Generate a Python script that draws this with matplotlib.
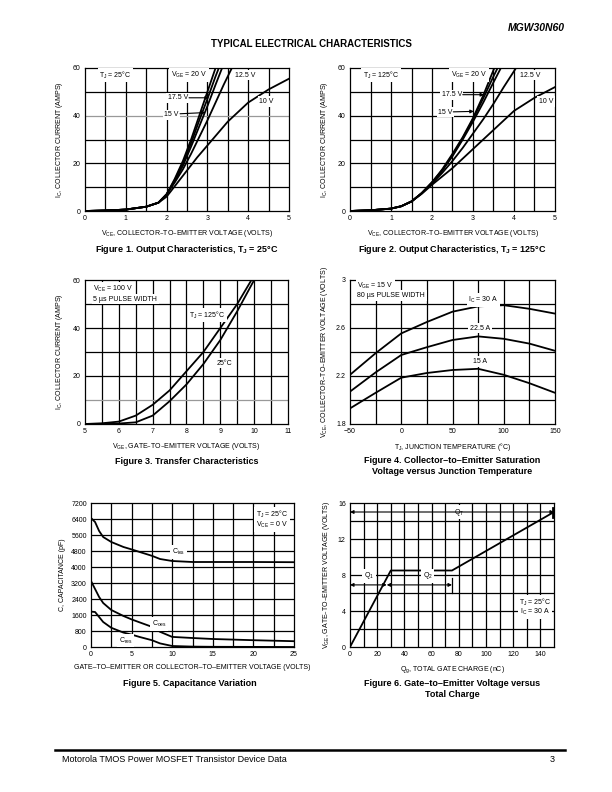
import matplotlib
matplotlib.use("Agg")
import matplotlib.pyplot as plt
import numpy as np

plt.rcParams['font.family'] = ['Liberation Sans', 'DejaVu Sans']
plt.rcParams['mathtext.default'] = 'regular'

# ---- Figure 1 : output characteristics, TJ = 25 C
vce_25 = {
    '20 V':   ([0, 0.5, 1, 1.5, 1.8, 2.0, 2.2, 2.4, 2.6, 2.8, 3.0, 3.2],
               [0, 0.2, 0.6, 1.8, 3.5, 7, 13.5, 21, 30, 40, 50, 60]),
    '17.5 V': ([0, 0.5, 1, 1.5, 1.8, 2.0, 2.2, 2.4, 2.6, 2.8, 3.0, 3.2, 3.28],
               [0, 0.2, 0.6, 1.8, 3.5, 7, 13, 20, 28.5, 38, 47, 56.5, 60]),
    '15 V':   ([0, 0.5, 1, 1.5, 1.8, 2.0, 2.2, 2.4, 2.6, 2.8, 3.0, 3.2, 3.36],
               [0, 0.2, 0.6, 1.8, 3.5, 7, 12.5, 19, 27, 35.5, 44, 53, 60]),
    '12.5 V': ([0, 0.5, 1, 1.5, 1.8, 2.0, 2.2, 2.4, 2.6, 2.8, 3.0, 3.2, 3.4, 3.6],
               [0, 0.2, 0.6, 1.8, 3.5, 7, 12, 17.5, 24, 31, 38, 45.5, 53, 60]),
    '10 V':   ([0, 0.5, 1, 1.5, 1.8, 2.0, 2.25, 2.5, 2.75, 3.0, 3.5, 4.0, 4.5, 5.0],
               [0, 0.2, 0.6, 1.8, 3.5, 6, 11.5, 17, 22.5, 27.5, 37.5, 45.5, 51, 55.5]),
}

# ---- Figure 2 : output characteristics, TJ = 125 C
vce_125 = {
    '20 V':   ([0, 0.5, 1, 1.25, 1.5, 1.75, 2.0, 2.25, 2.5, 2.75, 3.0, 3.25, 3.52],
               [0, 0.3, 1.0, 2, 4, 7.5, 12, 17.5, 24, 31, 39, 48.5, 60]),
    '17.5 V': ([0, 0.5, 1, 1.25, 1.5, 1.75, 2.0, 2.25, 2.5, 2.75, 3.0, 3.27, 3.5, 3.6],
               [0, 0.3, 1.0, 2, 4, 7.5, 12, 17, 23.5, 30.5, 38.5, 48, 56.5, 60]),
    '15 V':   ([0, 0.5, 1, 1.25, 1.5, 1.75, 2.0, 2.25, 2.5, 2.75, 3.0, 3.25, 3.5, 3.68],
               [0, 0.3, 1.0, 2, 4, 7.5, 12, 17, 23, 30, 37.5, 45.5, 54, 60]),
    '12.5 V': ([0, 0.5, 1, 1.25, 1.5, 1.75, 2.0, 2.25, 2.5, 2.75, 3.0, 3.25, 3.5, 3.75, 4.05],
               [0, 0.3, 1.0, 2, 4, 7.5, 11.5, 16, 21, 26.5, 32.5, 38.5, 45, 52, 60]),
    '10 V':   ([0, 0.5, 1, 1.25, 1.5, 1.75, 2.0, 2.25, 2.5, 2.75, 3.0, 3.5, 4.0, 4.5, 5.0],
               [0, 0.3, 1.0, 2, 4, 7.2, 11, 14.5, 18, 22, 26, 34, 42, 47.5, 52]),
}

# ---- Figure 3 : transfer characteristics
vge_tr = [5, 5.5, 6, 6.5, 7, 7.5, 8, 8.5, 9, 9.5, 9.92, 10]
ic_tr_125 = [0, 0.3, 1, 3.5, 8, 14, 22, 30, 40, 50, 60, None]
ic_tr_25 = [0, 0.05, 0.2, 0.7, 3.5, 9.5, 16.5, 25, 35, 47, None, 60]

# ---- Figure 4 : saturation voltage vs junction temperature
tj = [-50, -25, 0, 25, 50, 75, 100, 125, 150]
vsat_30 = [2.21, 2.39, 2.555, 2.65, 2.736, 2.78, 2.79, 2.76, 2.72]
vsat_225 = [2.07, 2.23, 2.375, 2.44, 2.5, 2.53, 2.51, 2.47, 2.41]
vsat_15 = [1.93, 2.06, 2.186, 2.225, 2.25, 2.26, 2.21, 2.14, 2.06]

# ---- Figure 5 : capacitance variation
v_cap = [0, 0.5, 1, 1.5, 2.5, 4, 5, 6, 7.5, 8.5, 10, 12.5, 15, 20, 25]
c_ies = [6450, 6250, 5800, 5500, 5250, 5000, 4880, 4750, 4560, 4400, 4300, 4250, 4250, 4250, 4240]
c_oes = [3300, 2900, 2500, 2200, 1850, 1550, 1380, 1230, 1010, 760, 505, 450, 400, 340, 290]
c_res = [1770, 1750, 1500, 1250, 960, 720, 620, 500, 340, 180, 50, 20, 10, 5, 0]

# ---- Figure 6 : gate charge
qg = [0, 30, 75, 150]
vge_qg = [0, 8.5, 8.5, 15]

fig = plt.figure(figsize=(6.12, 7.92), dpi=100)
W, H = 612.0, 792.0


def axes_px(x0, y0, x1, y1):
    return fig.add_axes([x0 / W, 1 - y1 / H, (x1 - x0) / W, (y1 - y0) / H])


def grid_setup(ax, xlim, ylim, xmaj, ymaj, xgrid, ygrid, gray_y=()):
    ax.set_xlim(*xlim)
    ax.set_ylim(*ylim)
    ax.set_xticks(xmaj)
    ax.set_yticks(ymaj)
    ax.tick_params(length=0, labelsize=5, pad=3)
    for g in xgrid:
        ax.axvline(g, color='black', lw=0.9, zorder=1)
    for g in ygrid:
        ax.axhline(g, color='#999999' if g in gray_y else 'black', lw=0.9, zorder=1)
    for s in ax.spines.values():
        s.set_linewidth(0.9)


def label(ax, x, y, s, ha='center', size=5):
    ax.text(x, y, s, ha=ha, va='center', fontsize=size, zorder=4,
            bbox=dict(facecolor='white', edgecolor='none', pad=1.2))


def arrow(ax, xy_from, xy_to):
    ax.annotate('', xy=xy_to, xytext=xy_from, zorder=5,
                arrowprops=dict(arrowstyle='-|>', color='black', lw=0.8,
                                mutation_scale=5, shrinkA=0, shrinkB=0))


lw_curve = 1.3

# Figure 1
ax1 = axes_px(85, 68, 289, 211)
grid_setup(ax1, (0, 5), (0, 60), range(0, 6), range(0, 61, 20),
           np.arange(0.5, 5, 0.5), range(10, 60, 10), gray_y=(40,))
for k, (x, y) in vce_25.items():
    ax1.plot(x, y, color='black', lw=lw_curve, zorder=3)
label(ax1, 0.75, 57, 'T$_J$ = 25°C')
label(ax1, 2.55, 57, 'V$_{GE}$ = 20 V')
label(ax1, 3.93, 57, '12.5 V')
label(ax1, 4.45, 46, '10 V')
label(ax1, 2.28, 47.5, '17.5 V')
label(ax1, 2.12, 40.3, '15 V')
arrow(ax1, (2.55, 47.5), (3.04, 47.5))
arrow(ax1, (2.33, 40.8), (2.95, 41.3))
ax1.set_xlabel('V$_{CE}$, COLLECTOR–TO–EMITTER VOLTAGE (VOLTS)', fontsize=5, labelpad=4)
ax1.set_ylabel('I$_C$, COLLECTOR CURRENT (AMPS)', fontsize=5, labelpad=6)

# Figure 2
ax2 = axes_px(350, 68, 555, 211)
grid_setup(ax2, (0, 5), (0, 60), range(0, 6), range(0, 61, 20),
           np.arange(0.5, 5, 0.5), range(10, 60, 10))
for k, (x, y) in vce_125.items():
    ax2.plot(x, y, color='black', lw=lw_curve, zorder=3)
label(ax2, 0.75, 57, 'T$_J$ = 125°C')
label(ax2, 2.9, 57, 'V$_{GE}$ = 20 V')
label(ax2, 4.4, 57, '12.5 V')
label(ax2, 4.78, 46, '10 V')
label(ax2, 2.48, 48.8, '17.5 V')
label(ax2, 2.33, 41.5, '15 V')
arrow(ax2, (2.75, 48.8), (3.27, 48.8))
arrow(ax2, (2.52, 41.6), (3.02, 41.8))
ax2.set_xlabel('V$_{CE}$, COLLECTOR–TO–EMITTER VOLTAGE (VOLTS)', fontsize=5, labelpad=4)
ax2.set_ylabel('I$_C$, COLLECTOR CURRENT (AMPS)', fontsize=5, labelpad=6)

# Figure 3
ax3 = axes_px(85, 280, 288, 424)
grid_setup(ax3, (5, 11), (0, 60), range(5, 12), range(0, 61, 20),
           np.arange(5.5, 11, 0.5), range(10, 60, 10), gray_y=(10,))
for ic in (ic_tr_125, ic_tr_25):
    xs = [v for v, i in zip(vge_tr, ic) if i is not None]
    ys = [i for i in ic if i is not None]
    ax3.plot(xs, ys, color='black', lw=lw_curve, zorder=3)
ax3.text(5.25, 56.5, 'V$_{CE}$ = 100 V', fontsize=5, va='center', zorder=4,
         bbox=dict(facecolor='white', edgecolor='none', pad=1.2))
ax3.text(5.25, 52.0, '5 µs PULSE WIDTH', fontsize=5, va='center', zorder=4,
         bbox=dict(facecolor='white', edgecolor='none', pad=1.2))
label(ax3, 8.62, 45.4, 'T$_J$ = 125°C')
label(ax3, 9.12, 25.4, '25°C')
ax3.set_xlabel('V$_{GE}$, GATE–TO–EMITTER VOLTAGE (VOLTS)', fontsize=5, labelpad=4)
ax3.set_ylabel('I$_C$, COLLECTOR CURRENT (AMPS)', fontsize=5, labelpad=6)

# Figure 4
ax4 = axes_px(350, 280, 555, 424)
grid_setup(ax4, (-50, 150), (1.8, 3.0), [-50, 0, 50, 100, 150], [1.8, 2.2, 2.6, 3.0],
           range(-25, 150, 25), [2.0, 2.2, 2.4, 2.6, 2.8])
ax4.set_yticklabels(['1.8', '2.2', '2.6', '3'])
for v in (vsat_30, vsat_225, vsat_15):
    ax4.plot(tj, v, color='black', lw=lw_curve, zorder=3)
ax4.text(-43, 2.95, 'V$_{GE}$ = 15 V', fontsize=5, va='center', zorder=4,
         bbox=dict(facecolor='white', edgecolor='none', pad=1.2))
ax4.text(-43, 2.87, '80 µs PULSE WIDTH', fontsize=5, va='center', zorder=4,
         bbox=dict(facecolor='white', edgecolor='none', pad=1.2))
label(ax4, 80, 2.835, 'I$_C$ = 30 A')
label(ax4, 77, 2.6, '22.5 A')
label(ax4, 77, 2.32, '15 A')
ax4.set_xlabel('T$_J$, JUNCTION TEMPERATURE (°C)', fontsize=5, labelpad=4)
ax4.set_ylabel('V$_{CE}$, COLLECTOR–TO–EMITTER VOLTAGE (VOLTS)', fontsize=5, labelpad=4)

# Figure 5
ax5 = axes_px(91, 503, 294, 647)
grid_setup(ax5, (0, 25), (0, 7200), range(0, 26, 5), range(0, 7201, 800),
           np.arange(2.5, 25, 2.5), range(800, 7200, 800))
for c in (c_ies, c_oes, c_res):
    ax5.plot(v_cap, c, color='black', lw=lw_curve, zorder=3)
label(ax5, 10.8, 4750, 'C$_{ies}$')
label(ax5, 8.4, 1150, 'C$_{oes}$')
label(ax5, 4.3, 320, 'C$_{res}$')
label(ax5, 22.3, 6650, 'T$_J$ = 25°C')
label(ax5, 22.3, 6080, 'V$_{CE}$ = 0 V')
ax5.set_xlabel('GATE–TO–EMITTER OR COLLECTOR–TO–EMITTER VOLTAGE (VOLTS)', fontsize=5, labelpad=4)
ax5.set_ylabel('C, CAPACITANCE (pF)', fontsize=5, labelpad=4)

# Figure 6
ax6 = axes_px(350, 503, 554, 647)
grid_setup(ax6, (0, 150), (0, 16), range(0, 141, 20), range(0, 17, 4),
           range(10, 150, 10), range(2, 16, 2))
ax6.plot(qg, vge_qg, color='black', lw=lw_curve, zorder=3)
ax6.annotate('', xy=(0, 15), xytext=(150, 15), zorder=5,
             arrowprops=dict(arrowstyle='<|-|>', color='black', lw=0.8,
                             mutation_scale=5, shrinkA=0, shrinkB=0))
ax6.plot([149, 149], [14.5, 15.5], color='black', lw=2, zorder=5, clip_on=False)
label(ax6, 80, 15, 'Q$_T$')
ax6.annotate('', xy=(0, 6.9), xytext=(27, 6.9), zorder=5,
             arrowprops=dict(arrowstyle='<|-|>', color='black', lw=0.8,
                             mutation_scale=5, shrinkA=0, shrinkB=0))
ax6.annotate('', xy=(27, 6.9), xytext=(75, 6.9), zorder=5,
             arrowprops=dict(arrowstyle='<|-|>', color='black', lw=0.8,
                             mutation_scale=5, shrinkA=0, shrinkB=0))
ax6.plot([75, 75], [6.0, 7.7], color='black', lw=0.9, zorder=5)
label(ax6, 14, 7.9, 'Q$_1$')
label(ax6, 57, 7.9, 'Q$_2$')
label(ax6, 136, 5.0, 'T$_J$ = 25°C')
label(ax6, 136, 3.9, 'I$_C$ = 30 A')
ax6.set_xlabel('Q$_g$, TOTAL GATE CHARGE (nC)', fontsize=5, labelpad=4)
ax6.set_ylabel('V$_{GE}$, GATE–TO–EMITTER VOLTAGE (VOLTS)', fontsize=5, labelpad=4)

# page text
fig.text(565 / W, 1 - 28 / H, 'MGW30N60', ha='right', va='center', fontsize=7.5,
         fontweight='bold', style='italic')
fig.text(311 / W, 1 - 44 / H, 'TYPICAL ELECTRICAL CHARACTERISTICS', ha='center',
         va='center', fontsize=7, fontweight='bold')
cap = dict(ha='center', va='center', fontsize=6.5, fontweight='bold', linespacing=1.15)
fig.text(187 / W, 1 - 249 / H, 'Figure 1. Output Characteristics, T$_J$ = 25°C', **cap)
fig.text(452 / W, 1 - 249 / H, 'Figure 2. Output Characteristics, T$_J$ = 125°C', **cap)
fig.text(187 / W, 1 - 461 / H, 'Figure 3. Transfer Characteristics', **cap)
fig.text(452 / W, 1 - 466 / H, 'Figure 4. Collector–to–Emitter Saturation\nVoltage versus Junction Temperature', **cap)
fig.text(190 / W, 1 - 684 / H, 'Figure 5. Capacitance Variation', **cap)
fig.text(452 / W, 1 - 689 / H, 'Figure 6. Gate–to–Emitter Voltage versus\nTotal Charge', **cap)

fig.add_artist(plt.Line2D([55 / W, 565 / W], [1 - 750 / H, 1 - 750 / H], color='black', lw=1.8))
fig.text(62 / W, 1 - 760 / H, 'Motorola TMOS Power MOSFET Transistor Device Data',
         ha='left', va='center', fontsize=6.5)
fig.text(555 / W, 1 - 760 / H, '3', ha='right', va='center', fontsize=6.5)

fig.savefig('out.png', dpi=100)
